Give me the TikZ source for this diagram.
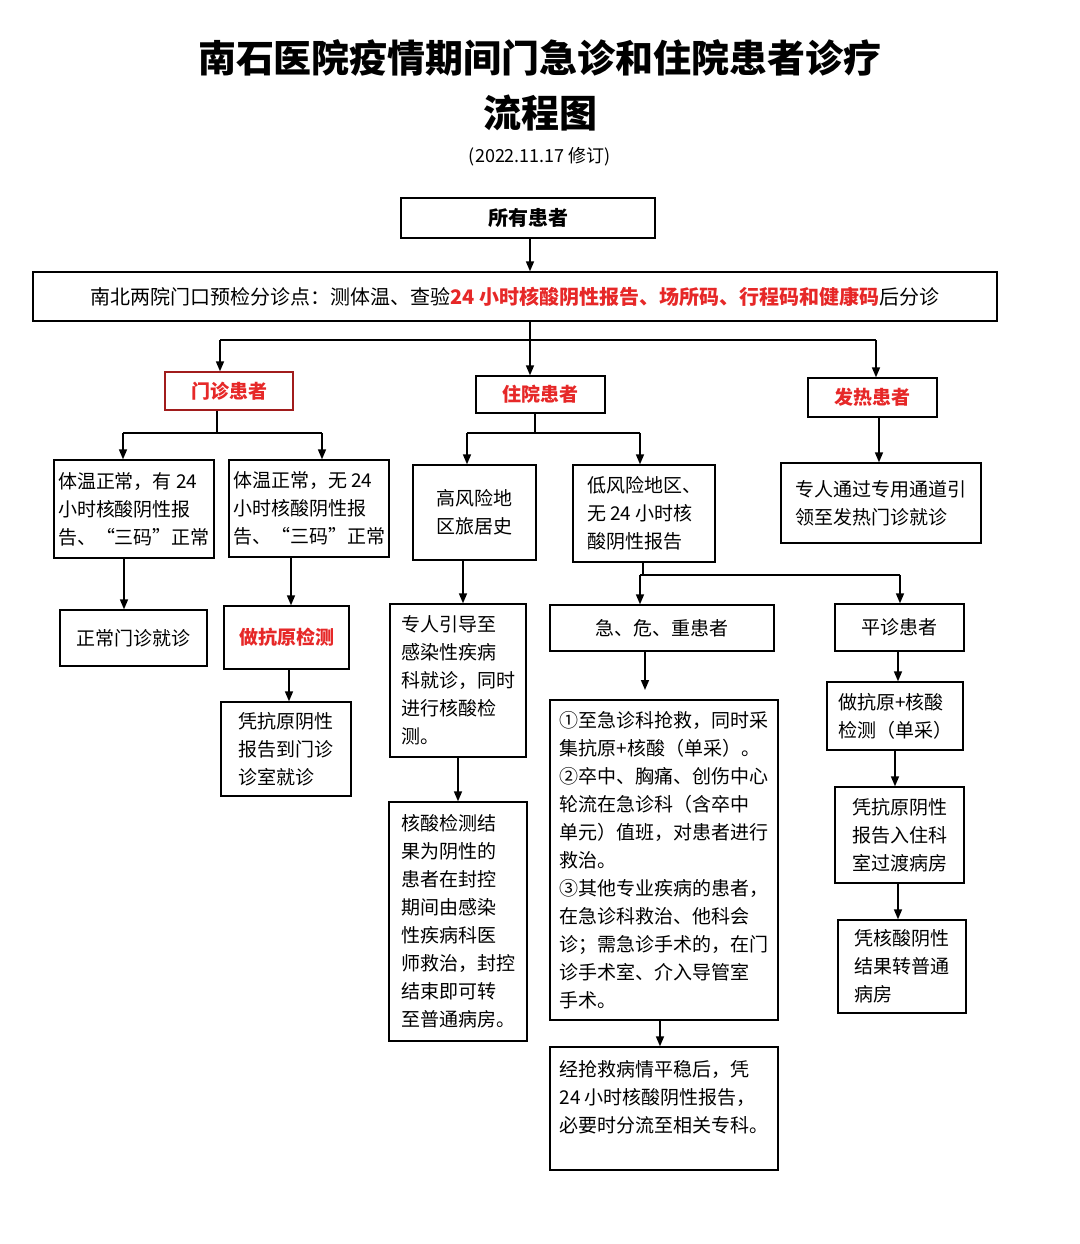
\documentclass[tikz,border=0pt]{standalone}
\usepackage{fontspec}
\setmainfont{Noto Sans CJK SC}
\usetikzlibrary{arrows.meta}
\definecolor{rd}{RGB}{230,40,40}
\begin{document}
\begin{tikzpicture}[x=0.5pt,y=-0.5pt,
 box/.style={draw,line width=0.7pt,inner sep=2pt,font=\fontsize{9.5}{14}\selectfont},
 arr/.style={-{Triangle[length=5pt,width=4pt]},line width=0.8pt},
 ln/.style={line width=0.8pt}]
\useasboundingbox (0,0) rectangle (1080,1244);
\node[font=\fontsize{19}{22}\selectfont\bfseries] (t1) at (540,58) {南石医院疫情期间门急诊和住院患者诊疗};
\node[font=\fontsize{19}{22}\selectfont\bfseries] (t2) at (540,113) {流程图};
\node[font=\fontsize{9}{11}\selectfont] (t3) at (540,157) {(2022.11.17 修订)};
\node[box,minimum width=127pt,minimum height=20pt,font=\fontsize{10}{12}\selectfont\bfseries] (all) at (528,218) {所有患者};
\node[box,minimum width=482pt,minimum height=24.5pt,font=\fontsize{10}{12}\selectfont] (gate) at (515,296.5) {南北两院门口预检分诊点：测体温、查验\textcolor{rd}{\bfseries 24 小时核酸阴性报告、场所码、行程码和健康码}后分诊};
\node[box,draw=rd!70!black,text=rd,minimum width=64pt,minimum height=19pt,font=\fontsize{9.5}{12}\selectfont\bfseries] (mz) at (229,391) {门诊患者};
\node[box,text=rd,minimum width=64.5pt,minimum height=18.5pt,font=\fontsize{9.5}{12}\selectfont\bfseries] (zy) at (540.5,394.5) {住院患者};
\node[box,text=rd,minimum width=64.5pt,minimum height=19.5pt,font=\fontsize{9.5}{12}\selectfont\bfseries] (fr) at (872.5,397.5) {发热患者};
\node[box,minimum width=79pt,minimum height=49pt,align=left] (b1) at (134,509) {体温正常，有 24\\小时核酸阴性报\\告、“三码”正常};
\node[box,minimum width=80pt,minimum height=48.5pt,align=left] (b2) at (309,508.5) {体温正常，无 24\\小时核酸阴性报\\告、“三码”正常};
\node[box,minimum width=61.5pt,minimum height=47.5pt,align=left] (b3) at (474.5,512.5) {高风险地\\区旅居史};
\node[box,minimum width=71pt,minimum height=48.5pt,align=left] (b4) at (644,513.5) {低风险地区、\\无 24 小时核\\酸阴性报告};
\node[box,minimum width=100pt,minimum height=40pt,align=left] (b5) at (881,503) {专人通过专用通道引\\领至发热门诊就诊};
\node[box,minimum width=73.5pt,minimum height=28pt] (c1) at (133.5,638) {正常门诊就诊};
\node[box,minimum width=62.5pt,minimum height=31.5pt,text=rd,font=\fontsize{9.5}{12}\selectfont\bfseries] (c2) at (286.5,637.5) {做抗原检测};
\node[box,minimum width=65pt,minimum height=47pt,align=left] (c3) at (286,749) {凭抗原阴性\\报告到门诊\\诊室就诊};
\node[box,minimum width=68pt,minimum height=76.5pt,align=left] (d1) at (458,680.5) {专人引导至\\感染性疾病\\科就诊，同时\\进行核酸检\\测。};
\node[box,minimum width=69pt,minimum height=119.5pt,align=left] (d2) at (458,921.5) {核酸检测结\\果为阴性的\\患者在封控\\期间由感染\\性疾病科医\\师救治，封控\\结束即可转\\至普通病房。};
\node[box,minimum width=112pt,minimum height=23pt] (e1) at (662,628) {急、危、重患者};
\node[box,minimum width=64.5pt,minimum height=23.5pt] (e2) at (899.5,627.5) {平诊患者};
\node[box,minimum width=114pt,minimum height=160pt,align=left] (f1) at (664,860) {①至急诊科抢救，同时采\\集抗原+核酸（单采）。\\②卒中、胸痛、创伤中心\\轮流在急诊科（含卒中\\单元）值班，对患者进行\\救治。\\③其他专业疾病的患者，\\在急诊科救治、他科会\\诊；需急诊手术的，在门\\诊手术室、介入导管室\\手术。};
\node[box,minimum width=114pt,minimum height=61.5pt,align=left,text depth=12pt] (f2) at (664,1108.5) {经抢救病情平稳后，凭\\24 小时核酸阴性报告，\\必要时分流至相关专科。};
\node[box,minimum width=68pt,minimum height=34pt,align=left] (g1) at (895,716) {做抗原+核酸\\检测（单采）};
\node[box,minimum width=64.5pt,minimum height=48pt,align=left] (g2) at (899.5,835) {凭抗原阴性\\报告入住科\\室过渡病房};
\node[box,minimum width=64pt,minimum height=46.5pt,align=left] (g3) at (902,966.5) {凭核酸阴性\\结果转普通\\病房};
% connectors
\draw[arr] (all.south -| 530,0) -- (gate.north -| 530,0);
\coordinate (j0) at (530,340);
\draw[ln] (gate.south -| 530,0) -- (j0);
\draw[ln] (220,340) -- (876,340);
\draw[arr] (220,340) -- (mz.north -| 220,0);
\draw[arr] (j0) -- (zy.north -| 530,0);
\draw[arr] (876,340) -- (fr.north -| 876,0);
\draw[ln] (mz.south -| 217,0) -- (217,433);
\draw[ln] (123,433) -- (322,433);
\draw[arr] (123,433) -- (b1.north -| 123,0);
\draw[arr] (322,433) -- (b2.north -| 322,0);
\draw[ln] (zy.south -| 535,0) -- (535,433);
\draw[ln] (467,433) -- (640,433);
\draw[arr] (467,433) -- (b3.north -| 467,0);
\draw[arr] (640,433) -- (b4.north -| 640,0);
\draw[arr] (fr.south -| 879,0) -- (b5.north -| 879,0);
\draw[arr] (b1.south -| 124,0) -- (c1.north -| 124,0);
\draw[arr] (b2.south -| 291,0) -- (c2.north -| 291,0);
\draw[arr] (c2.south -| 289,0) -- (c3.north -| 289,0);
\draw[arr] (b3.south -| 463,0) -- (d1.north -| 463,0);
\draw[arr] (d1.south -| 458,0) -- (d2.north -| 458,0);
\draw[ln] (b4.south -| 643,0) -- (643,575);
\draw[ln] (640,575) -- (900,575);
\draw[arr] (640,575) -- (e1.north -| 640,0);
\draw[arr] (900,575) -- (e2.north -| 900,0);
\draw[arr] (e1.south -| 645,0) -- (645,690);
\draw[arr] (e2.south -| 898,0) -- (g1.north -| 898,0);
\draw[arr] (g1.south -| 895,0) -- (g2.north -| 895,0);
\draw[arr] (g2.south -| 898,0) -- (g3.north -| 898,0);
\draw[arr] (f1.south -| 660,0) -- (f2.north -| 660,0);
\end{tikzpicture}
\end{document}
